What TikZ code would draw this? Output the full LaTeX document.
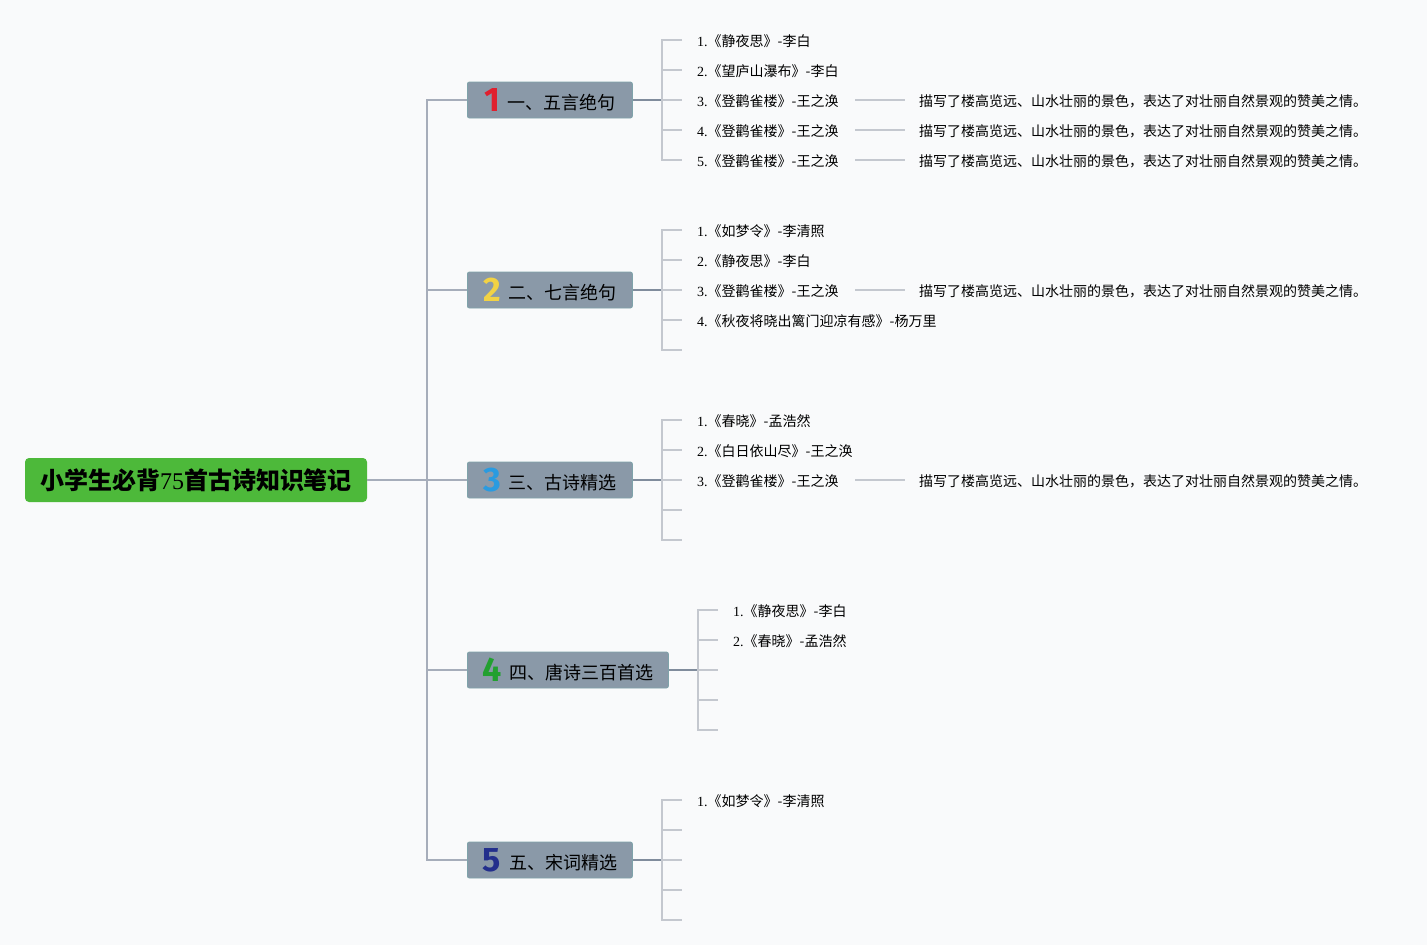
\documentclass[tikz,border=0pt]{standalone}
\usepackage{fontspec}
\usepackage{tikz}
\setmainfont{Liberation Serif}
\newfontfamily\cjk{Noto Sans CJK SC}
\newfontfamily\numfont{Fira Sans}
\definecolor{bgcol}{HTML}{F9FAFB}
\definecolor{rootgreen}{HTML}{4DB93A}
\definecolor{boxgray}{HTML}{8A99A8}
\definecolor{boxedge}{HTML}{7FA3AA}
\definecolor{trunkcol}{HTML}{A6ADBA}
\definecolor{armcol}{HTML}{808C9C}
\definecolor{stubcol}{HTML}{C4C8CF}
\definecolor{nred}{HTML}{E0202E}
\definecolor{nyellow}{HTML}{F2D244}
\definecolor{nblue}{HTML}{2A9BE0}
\definecolor{ngreen}{HTML}{22A030}
\definecolor{nnavy}{HTML}{232F8C}
\newcommand{\num}[2]{{\numfont\bfseries\fontsize{34}{34}\selectfont\color{#1}#2}\hspace{8pt}}
\newcommand{\poem}[2]{#1{\cjk #2}}
\newcommand{\zanmei}{描写了楼高览远、山水壮丽的景色，表达了对壮丽自然景观的赞美之情。}
\tikzstyle{root} = [fill=rootgreen, rounded corners=4pt, minimum width=342pt, minimum height=44pt, inner sep=0pt, font=\fontsize{24}{24}\selectfont]
\tikzstyle{branch} = [fill=boxgray, draw=boxedge, line width=0.8pt, rounded corners=2pt, anchor=west, minimum width=165pt, minimum height=36pt, inner sep=0pt, font=\cjk\fontsize{18}{18}\selectfont]
\tikzstyle{leaf} = [anchor=west, inner sep=0pt, font=\fontsize{14}{14}\selectfont]
\tikzstyle{detail} = [anchor=west, inner sep=0pt, font=\cjk\fontsize{14}{14}\selectfont]
\tikzstyle{trunk} = [draw=trunkcol, line width=1.2pt]
\tikzstyle{arm} = [draw=armcol, line width=1.2pt]
\tikzstyle{stub} = [draw=stubcol, line width=1.2pt]

\begin{document}
\begin{tikzpicture}[x=1pt, y=-1pt]
		\fill[bgcol] (0,0) rectangle (1427,945);
		\useasboundingbox (0,0) rectangle (1427,945);
		% root and main branches
		\node[root](root) at (196,480) {{\cjk\bfseries 小学生必背}75{\cjk\bfseries 首古诗知识笔记}};
		\node[branch](b1) at (467,100) {\num{nred}{1}\raisebox{2pt}{一、五言绝句}};
		\node[branch](b2) at (467,290) {\num{nyellow}{2}\raisebox{2pt}{二、七言绝句}};
		\node[branch](b3) at (467,480) {\num{nblue}{3}\raisebox{2pt}{三、古诗精选}};
		\node[branch, minimum width=201pt](b4) at (467,670) {\num{ngreen}{4}\raisebox{2pt}{四、唐诗三百首选}};
		\node[branch](b5) at (467,860) {\num{nnavy}{5}\raisebox{2pt}{五、宋词精选}};
		\coordinate (t) at (427,480);
		\draw[trunk] (root.east) -- (t);
		\foreach \b in {1,...,5}
			\draw[trunk] (t) |- (b\b.west);
		% stubs
		\foreach \b/\y in {1/100,2/290,3/480,5/860}{
			\draw[arm] (b\b.east) -- (662,\y) coordinate (s\b);
			\foreach \i/\d in {1/-60,2/-30,3/0,4/30,5/60}
				\coordinate (c\b\i) at (682,\y+\d);
			\draw[stub] (c\b1) -| (s\b) |- (c\b5);
			\foreach \i in {2,3,4}
				\draw[stub] (s\b |- c\b\i) -- (c\b\i);
		}
		\draw[arm] (b4.east) -- (698,670) coordinate (s4);
		\foreach \i/\d in {1/-60,2/-30,3/0,4/30,5/60}
			\coordinate (c4\i) at (718,670+\d);
		\draw[stub] (c41) -| (s4) |- (c45);
		\foreach \i in {2,3,4}
			\draw[stub] (s4 |- c4\i) -- (c4\i);
		% poems
		\node[leaf](l11) at (697,41) {\poem{1.}{《静夜思》-李白}};
		\node[leaf](l12) at (697,71) {\poem{2.}{《望庐山瀑布》-李白}};
		\node[leaf](l13) at (697,101) {\poem{3.}{《登鹳雀楼》-王之涣}};
		\node[leaf](l14) at (697,131) {\poem{4.}{《登鹳雀楼》-王之涣}};
		\node[leaf](l15) at (697,161) {\poem{5.}{《登鹳雀楼》-王之涣}};
		\node[leaf](l21) at (697,231) {\poem{1.}{《如梦令》-李清照}};
		\node[leaf](l22) at (697,261) {\poem{2.}{《静夜思》-李白}};
		\node[leaf](l23) at (697,291) {\poem{3.}{《登鹳雀楼》-王之涣}};
		\node[leaf](l24) at (697,321) {\poem{4.}{《秋夜将晓出篱门迎凉有感》-杨万里}};
		\node[leaf](l31) at (697,421) {\poem{1.}{《春晓》-孟浩然}};
		\node[leaf](l32) at (697,451) {\poem{2.}{《白日依山尽》-王之涣}};
		\node[leaf](l33) at (697,481) {\poem{3.}{《登鹳雀楼》-王之涣}};
		\node[leaf](l41) at (733,611) {\poem{1.}{《静夜思》-李白}};
		\node[leaf](l42) at (733,641) {\poem{2.}{《春晓》-孟浩然}};
		\node[leaf](l51) at (697,801) {\poem{1.}{《如梦令》-李清照}};
		% notes
		\foreach \n/\y in {13/101,14/131,15/161,23/291,33/481}{
			\node[detail](d\n) at (919,\y) {\zanmei};
			\draw[stub] (855,\y-1) -- ([xshift=-14pt,yshift=1pt]d\n.west);
		}
\end{tikzpicture}
\end{document}
